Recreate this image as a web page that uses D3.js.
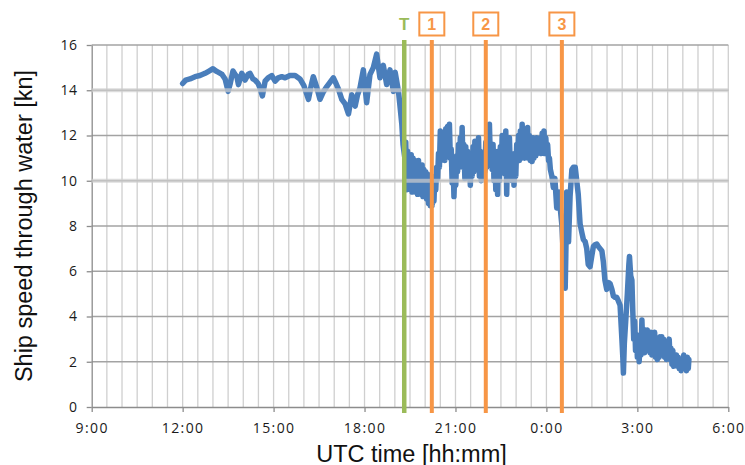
<!DOCTYPE html>
<html>
<head>
<meta charset="utf-8">
<script src="https://cdn.jsdelivr.net/npm/d3@7"></script>
<style>
  html, body { margin: 0; padding: 0; background: #fff; }
  svg { display: block; }
  .tick-label { font-family: "Open Sans", sans-serif; font-size: 14px; letter-spacing: 1.4px; fill: #1a1a1a; }
  .axis-title { font-family: "Liberation Sans", Arial, sans-serif; font-size: 23.5px; fill: #111; }
</style>
</head>
<body>
<svg id="chart" width="745" height="465"></svg>
<script>
// Ship speed through water, decimal hours (values past 24 are the next day)
const timeHours = [
  // steady transit
  12.00, 12.10, 12.24, 12.41, 12.57, 12.74, 12.87, 13.00, 13.10, 13.17,
  13.30, 13.40, 13.50, 13.57, 13.66, 13.73, 13.79, 13.84, 13.95, 14.06,
  14.16, 14.22, 14.32, 14.39, 14.49, 14.55, 14.63, 14.72, 14.82, 14.94,
  15.05, 15.15, 15.27, 15.38, 15.54, 15.71, 15.87, 16.00, 16.15, 16.24,
  16.31, 16.42, 16.53, 16.63, 16.75, 16.86, 16.97, 17.06, 17.14, 17.25,
  17.36, 17.47, 17.58, 17.69, 17.77, 17.85, 17.96, 18.07, 18.18, 18.29,
  18.40, 18.51, 18.62, 18.73, 18.84, 18.95, 19.01, 19.12, 19.17, 19.23,
  19.27, 19.34,
  // reduced speed, strongly fluctuating
  19.36, 19.39, 19.42, 19.45, 19.48, 19.51, 19.54, 19.57, 19.60, 19.63,
  19.66, 19.69, 19.72, 19.75, 19.78, 19.81, 19.84, 19.87, 19.90, 19.93,
  19.96, 19.99, 20.02, 20.05, 20.08, 20.11, 20.14, 20.17, 20.20, 20.23,
  20.26, 20.29, 20.32, 20.35, 20.38, 20.41, 20.44, 20.47, 20.50, 20.53,
  20.56, 20.59, 20.62, 20.65, 20.68, 20.71, 20.74, 20.77, 20.80, 20.83,
  20.86, 20.89, 20.92, 20.95, 20.98, 21.01, 21.04, 21.07, 21.10, 21.13,
  21.16, 21.19, 21.22, 21.25, 21.28, 21.31, 21.34, 21.37, 21.40, 21.43,
  21.46, 21.49, 21.52, 21.55, 21.58, 21.61, 21.64, 21.67, 21.70, 21.73,
  21.76, 21.79, 21.82, 21.85, 21.88, 21.91, 21.94, 21.97, 22.00, 22.03,
  22.06, 22.09, 22.12, 22.15, 22.18, 22.21, 22.24, 22.27, 22.30, 22.33,
  22.36, 22.39, 22.42, 22.45, 22.48, 22.51, 22.54, 22.57, 22.60, 22.63,
  22.66, 22.69, 22.72, 22.75, 22.78, 22.81, 22.84, 22.87, 22.90, 22.93,
  22.96, 22.99, 23.02, 23.05, 23.08, 23.11, 23.14, 23.17, 23.20, 23.23,
  23.26, 23.29, 23.32, 23.35, 23.38, 23.41, 23.44, 23.47, 23.50, 23.53,
  23.56, 23.59, 23.62, 23.65, 23.68, 23.71, 23.74, 23.77, 23.80, 23.83,
  23.86, 23.89, 23.92, 23.95, 23.98, 24.01, 24.04, 24.07, 24.10, 24.13,
  // slowing down
  24.18, 24.23, 24.28, 24.34, 24.39, 24.42, 24.47, 24.51, 24.54, 24.56,
  24.59, 24.62, 24.65, 24.67, 24.70, 24.73, 24.78, 24.84, 24.89, 24.95,
  25.00, 25.05, 25.11, 25.17, 25.22, 25.28, 25.33, 25.38, 25.44, 25.50,
  25.55, 25.60, 25.66, 25.71, 25.77, 25.83, 25.88, 25.93, 25.99, 26.05,
  26.10, 26.16, 26.21, 26.26, 26.32, 26.37, 26.43, 26.49, 26.52, 26.54,
  26.57, 26.62, 26.67, 26.72, 26.74, 26.78, 26.82,
  // low speed
  26.85, 26.88, 26.91, 26.94, 26.97, 27.00, 27.03, 27.06, 27.09, 27.12,
  27.15, 27.18, 27.21, 27.24, 27.27, 27.30, 27.33, 27.36, 27.39, 27.42,
  27.45, 27.48, 27.51, 27.54, 27.57, 27.60, 27.63, 27.66, 27.69, 27.72,
  27.75, 27.78, 27.81, 27.84, 27.87, 27.90, 27.93, 27.96, 27.99, 28.02,
  28.05, 28.08, 28.11, 28.14, 28.17, 28.20, 28.23, 28.26, 28.29, 28.32,
  28.35, 28.38, 28.41, 28.44, 28.47, 28.50, 28.53, 28.56, 28.59, 28.62,
  28.65, 28.68, 28.70
];
const speedKn = [
  // steady transit
  14.30, 14.45, 14.50, 14.60, 14.65, 14.75, 14.85, 14.95, 14.85, 14.80,
  14.70, 14.50, 13.95, 14.30, 14.85, 14.70, 14.60, 14.25, 14.75, 14.45,
  14.70, 14.75, 14.50, 14.45, 14.30, 14.10, 13.75, 14.40, 14.55, 14.65,
  14.40, 14.55, 14.60, 14.55, 14.65, 14.65, 14.50, 14.20, 13.60, 14.20,
  14.60, 14.15, 13.60, 13.90, 14.15, 14.35, 14.55, 14.30, 14.05, 13.60,
  13.40, 12.95, 13.80, 13.30, 13.80, 14.10, 14.90, 13.45, 14.70, 15.00,
  15.60, 14.55, 15.10, 14.25, 14.90, 13.95, 14.80, 13.95, 13.30, 12.50,
  11.60, 10.90,
  // reduced speed, strongly fluctuating
  11.70, 9.60, 11.30, 9.80, 11.10, 9.60, 11.15, 9.50, 11.00, 9.70,
  10.90, 9.50, 10.80, 9.40, 10.90, 9.50, 10.60, 9.40, 10.70, 9.30,
  10.50, 9.40, 10.40, 9.20, 10.30, 9.00, 10.20, 8.90, 9.90, 8.90,
  9.90, 9.10, 10.20, 9.60, 10.60, 10.10, 11.20, 10.60, 12.20, 10.90,
  12.00, 11.10, 12.10, 10.90, 12.30, 11.30, 12.40, 11.40, 12.50, 11.00,
  11.40, 9.90, 10.80, 9.30, 10.50, 9.80, 11.10, 10.40, 11.60, 10.60,
  11.90, 10.80, 12.35, 10.60, 11.60, 10.10, 11.50, 10.30, 11.30, 10.20,
  11.00, 9.80, 10.90, 10.20, 11.50, 10.40, 11.75, 10.50, 11.60, 10.60,
  11.90, 10.20, 11.30, 10.00, 11.00, 10.10, 11.20, 10.40, 11.70, 10.60,
  11.90, 10.80, 12.50, 10.90, 11.60, 10.50, 11.60, 10.00, 11.30, 9.60,
  11.20, 9.40, 11.30, 10.00, 11.50, 10.40, 12.00, 10.50, 11.70, 10.30,
  12.20, 9.40, 11.50, 10.20, 11.90, 10.50, 11.20, 10.00, 11.00, 9.80,
  11.20, 10.20, 11.60, 10.90, 12.00, 10.90, 12.20, 11.00, 12.50, 11.10,
  12.00, 11.00, 12.10, 11.10, 12.35, 11.00, 12.00, 10.90, 11.80, 10.85,
  11.90, 11.00, 11.80, 11.10, 11.90, 11.20, 11.80, 11.30, 11.90, 11.20,
  12.10, 11.30, 12.20, 11.20, 11.90, 11.20, 11.60, 10.90, 11.00, 10.50,
  // slowing down
  10.20, 9.70, 10.10, 8.80, 9.45, 9.50, 8.60, 8.05, 7.20, 6.70,
  5.60, 5.25, 7.50, 9.50, 8.40, 7.30, 9.30, 10.50, 10.60, 10.60,
  10.00, 9.40, 8.10, 7.70, 7.40, 7.30, 7.00, 6.30, 6.20, 6.70,
  7.10, 7.17, 7.20, 7.10, 7.00, 6.90, 6.40, 5.60, 5.20, 5.50,
  5.45, 5.20, 4.90, 4.85, 4.85, 4.70, 4.50, 3.00, 2.20, 1.50,
  2.80, 3.90, 5.00, 6.30, 6.65, 5.80, 5.60,
  // low speed
  4.20, 3.00, 3.80, 2.50, 3.20, 2.20, 3.10, 2.00, 2.90, 2.30,
  3.85, 2.60, 3.30, 2.40, 3.40, 2.60, 3.40, 2.50, 3.20, 2.40,
  3.30, 2.30, 3.20, 2.40, 3.30, 2.20, 2.90, 2.10, 2.80, 2.20,
  3.10, 2.40, 3.10, 2.30, 3.00, 2.20, 2.70, 2.10, 2.90, 2.20,
  3.00, 2.10, 2.60, 1.90, 2.50, 1.80, 2.30, 1.90, 2.30, 1.80,
  2.20, 1.70, 2.00, 1.60, 2.10, 1.70, 2.30, 1.70, 2.20, 1.60,
  2.20, 1.70, 2.10
];

// Event markers: transition T and positions 1-3
const markerLabels = ["T", "1", "2", "3"];
const markerHours = [19.31, 20.22, 22.00, 24.51];

// Axis settings
const xTickHours = [9, 12, 15, 18, 21, 24, 27, 30];
const yTickValues = [0, 2, 4, 6, 8, 10, 12, 14, 16];
const highlightLevels = [14, 10];

const W = 745, H = 465;
const plot = { left: 91.7, right: 728.3, top: 45, bottom: 407 };
const svg = d3.select("#chart");

const x = d3.scaleLinear().domain([9, 30]).range([plot.left, plot.right]);
const y = d3.scaleLinear().domain([0, 16]).range([plot.bottom, plot.top]);

// Minor vertical grid every 30 minutes
svg.append("g")
  .selectAll("line")
  .data(d3.range(9.5, 30.001, 0.5))
  .join("line")
  .attr("x1", d => x(d)).attr("x2", d => x(d))
  .attr("y1", y(16)).attr("y2", y(0))
  .attr("stroke", "#cfcfcf").attr("stroke-width", 1.3);

// Major horizontal grid
svg.append("g")
  .selectAll("line")
  .data(yTickValues.filter(v => v > 0))
  .join("line")
  .attr("x1", x(9)).attr("x2", x(30))
  .attr("y1", d => y(d)).attr("y2", d => y(d))
  .attr("stroke", "#a3a3a3").attr("stroke-width", 1.3);

// Axes
const xAxis = d3.axisBottom(x)
  .tickValues(xTickHours)
  .tickSize(5).tickSizeOuter(0)
  .tickPadding(8)
  .tickFormat(h => `${h % 24}:00`);
const gx = svg.append("g")
  .attr("transform", `translate(0,${y(0)})`)
  .call(xAxis);
gx.select(".domain").attr("stroke", "#8c8c8c").attr("stroke-width", 1.3);
gx.selectAll(".tick line").attr("stroke", "#8c8c8c").attr("stroke-width", 1.3);
gx.selectAll(".tick text").attr("class", "tick-label").attr("dy", "0.9em");

const yAxis = d3.axisLeft(y)
  .tickValues(yTickValues)
  .tickSize(5).tickSizeOuter(0)
  .tickPadding(9);
const gy = svg.append("g")
  .attr("transform", `translate(${x(9)},0)`)
  .call(yAxis);
gy.select(".domain").attr("stroke", "#8c8c8c").attr("stroke-width", 1.3);
gy.selectAll(".tick line").attr("stroke", "#8c8c8c").attr("stroke-width", 1.3);
gy.selectAll(".tick text").attr("class", "tick-label").style("letter-spacing", "0.6px");

// Speed series
const series = timeHours.map((t, i) => [t, speedKn[i]]);
const line = d3.line().x(d => x(d[0])).y(d => y(d[1]));
svg.append("path")
  .datum(series)
  .attr("d", line)
  .attr("fill", "none")
  .attr("stroke", "#4a7ebb")
  .attr("stroke-width", 5.5)
  .attr("stroke-linejoin", "round")
  .attr("stroke-linecap", "round");

// Translucent bands on the 14 and 10 kn levels
svg.append("g")
  .selectAll("line")
  .data(highlightLevels)
  .join("line")
  .attr("x1", x(9)).attr("x2", x(30))
  .attr("y1", d => y(d)).attr("y2", d => y(d))
  .attr("stroke", "rgba(205,205,205,0.7)").attr("stroke-width", 4);

// Event marker lines
const markers = markerLabels.map((label, i) => ({ label, hour: markerHours[i], first: i === 0 }));
svg.append("g")
  .selectAll("line")
  .data(markers)
  .join("line")
  .attr("x1", d => x(d.hour)).attr("x2", d => x(d.hour))
  .attr("y1", y(16) - 5).attr("y2", y(0) + 6)
  .attr("stroke", d => d.first ? "#9bbb59" : "#f79646")
  .attr("stroke-width", d => d.first ? 4.5 : 4);

// Marker labels: plain "T", boxed numbers
const lab = svg.append("g").selectAll("g").data(markers).join("g")
  .attr("transform", d => `translate(${x(d.hour)},0)`);
lab.filter(d => !d.first).append("rect")
  .attr("x", -12.5).attr("y", 12.5).attr("width", 25).attr("height", 23)
  .attr("fill", "#fff").attr("stroke", "#f79646").attr("stroke-width", 2);
lab.append("text")
  .attr("text-anchor", "middle")
  .attr("y", 29.5)
  .attr("font-family", "Liberation Sans, Arial, sans-serif")
  .attr("font-weight", "bold")
  .attr("font-size", d => d.first ? "17px" : "16px")
  .attr("fill", d => d.first ? "#9bbb59" : "#f79646")
  .text(d => d.label);

// Axis titles
svg.append("text")
  .attr("class", "axis-title")
  .attr("x", 411.5).attr("y", 461.5)
  .attr("text-anchor", "middle")
  .text("UTC time [hh:mm]");
svg.append("text")
  .attr("class", "axis-title")
  .attr("transform", "translate(32,226) rotate(-90)")
  .attr("text-anchor", "middle")
  .text("Ship speed through water [kn]");
</script>
</body>
</html>
